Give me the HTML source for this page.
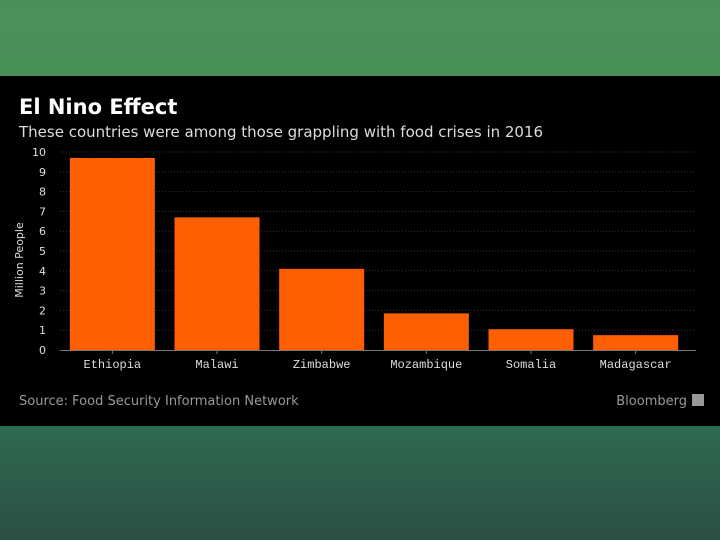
<!DOCTYPE html>
<html><head><meta charset="utf-8"><style>
body{margin:0;width:720px;height:540px;overflow:hidden;background:#2f5f4b;}
#top{position:absolute;left:0;top:0;width:720px;height:76px;background:linear-gradient(#4c8f5a,#4a9159);}
#bot{position:absolute;left:0;top:426px;width:720px;height:114px;background:linear-gradient(#2e6a50,#2b4f44);}
#panel{position:absolute;left:0;top:76px;width:720px;height:350px;background:#000;}
svg{position:absolute;left:0;top:0}
</style></head><body>
<div id="top"></div>
<div id="panel"></div>
<div id="bot"></div>
<svg width="720" height="540">
<text x="19" y="114" fill="#fff" font-family="DejaVu Sans, Liberation Sans, sans-serif" font-weight="bold" font-size="21">El Nino Effect</text>
<text x="19" y="137" fill="#ddd" font-family="DejaVu Sans, Liberation Sans, sans-serif" font-size="15">These countries were among those grappling with food crises in 2016</text>
<g id="grid"></g><g id="bars"></g><g id="axis"></g>
<text transform="translate(23,260) rotate(-90)" text-anchor="middle" fill="#ddd" font-family="DejaVu Sans, Liberation Sans, sans-serif" font-size="11">Million People</text>
<text x="19" y="405" fill="#999" font-family="DejaVu Sans, Liberation Sans, sans-serif" font-size="13">Source: Food Security Information Network</text>
<text x="687" y="405" text-anchor="end" fill="#999" font-family="DejaVu Sans, Liberation Sans, sans-serif" font-size="13">Bloomberg</text>
<rect x="692" y="394" width="12" height="12" fill="#999"/>
</svg>
<script>
const categories=["Ethiopia","Malawi","Zimbabwe","Mozambique","Somalia","Madagascar"];
const values=[9.7,6.7,4.1,1.85,1.05,0.75];
const yTicks=[0,1,2,3,4,5,6,7,8,9,10];
const NS="http://www.w3.org/2000/svg";
const x0=60,x1=688,y0=350,yTop=152;
const y=v=>y0-(v/10)*(y0-yTop);
const band=(x1-x0)/categories.length;
function mk(t,a,p){const e=document.createElementNS(NS,t);for(const k in a)e.setAttribute(k,a[k]);p.appendChild(e);return e;}
const g=document.getElementById('grid'),b=document.getElementById('bars'),ax=document.getElementById('axis');
yTicks.forEach(t=>{
 if(t>0){const l=mk('line',{x1:x0,x2:696,y1:y(t),y2:y(t),stroke:'#333','stroke-dasharray':'1,2'},g);
 
 }
 const tx=mk('text',{x:46,y:y(t)+4,'text-anchor':'end',fill:'#ddd','font-family':'DejaVu Sans, Liberation Sans, sans-serif','font-size':'11'},ax);
 tx.textContent=t;
 
 
});
categories.forEach((c,i)=>{
 const cx=x0+band*(i+0.5);
 const r=mk('rect',{x:cx-42.5,y:y(values[i]),width:85,height:y0-y(values[i]),fill:'#ff5f00'},b);
 
 
 const t=mk('text',{x:cx,y:368,'text-anchor':'middle',fill:'#ddd','font-family':'Liberation Mono, monospace','font-size':'12'},ax);
 t.textContent=c;
 
 
 const tk=mk('line',{x1:cx,x2:cx,y1:y0,y2:y0+4,stroke:'#777'},ax);
 
 
});
const base=mk('line',{x1:x0,x2:696,y1:y0+0.5,y2:y0+0.5,stroke:'#777'},ax);


</script>
</body></html>
